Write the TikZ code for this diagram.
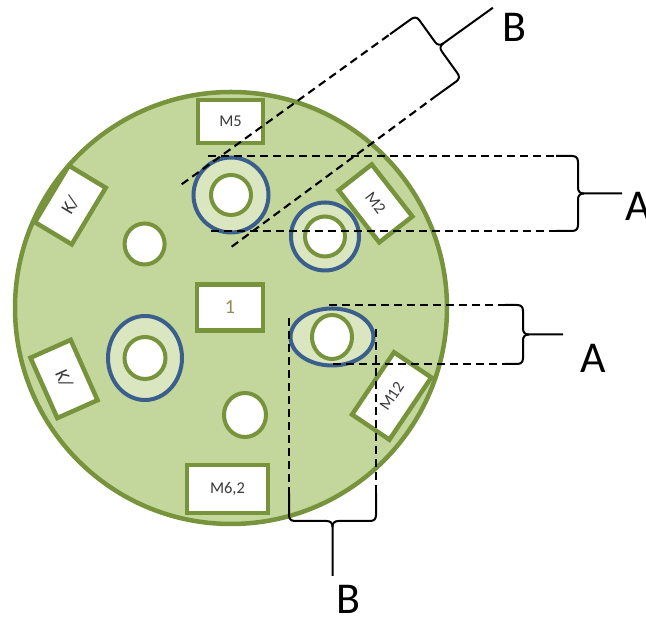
\documentclass[tikz,border=0pt]{standalone}
\usepackage{fontspec}
\setmainfont{Carlito}
\definecolor{agar}{HTML}{C3D69B}
\definecolor{rim}{HTML}{77933C}
\definecolor{zone}{HTML}{D9E6C0}
\definecolor{halo}{HTML}{3A5F8C}
\definecolor{labelink}{HTML}{3A3A3A}
\definecolor{numink}{HTML}{948A54}

\tikzset{
  plate/.style={draw=rim, fill=agar, line width=4.5pt},
  disc/.style={rectangle, draw=rim, fill=white, line width=4.5pt, inner sep=0pt,
    outer sep=0pt, text=labelink, font=\fontsize{16.5}{16.5}\selectfont},
  well/.style={draw=rim, fill=white, line width=4pt},
  haloring/.style={draw=halo, fill=zone, line width=4pt},
  guide/.style={draw=black, line width=2.1pt, dash pattern=on 8pt off 5pt},
  bracepath/.style={draw=black, line width=2pt, line join=round},
  zonelabel/.style={inner sep=0pt, anchor=base, font=\fontsize{44}{44}\selectfont}
}

% curly brace: #1 name, #2 centre, #3 angle, #4 half length, #5 depth, #6 tip length
\newcommand{\cbrace}[6]{%
  \begin{scope}[shift={#2},rotate=#3]
    \coordinate (#1-l) at (0,#4);
    \coordinate (#1-r) at (0,-#4);
    \coordinate (#1-tip) at ({#5+#6},0);
    \draw[bracepath] (#1-l) -- ({#5-6},#4) .. controls ({#5-2},#4) and (#5,{#4-2}) .. (#5,{#4-6})
      -- (#5,6) .. controls (#5,2) and ({#5+2},0) .. ({#5+6},0) -- (#1-tip);
    \draw[bracepath] (#1-r) -- ({#5-6},-#4) .. controls ({#5-2},-#4) and (#5,{-#4+2}) .. (#5,{-#4+6})
      -- (#5,-6) .. controls (#5,-2) and ({#5+2},0) .. ({#5+6},0);
  \end{scope}}

\begin{document}
\begin{tikzpicture}[x=1pt,y=1pt]
\useasboundingbox (0,0) rectangle (646,617);

% agar plate
\coordinate (dish) at (231,309);
\draw[plate] (dish) circle (216);

% wells with inhibition zones
\coordinate (w1) at (231,422);
\coordinate (w2) at (325,380.5);
\coordinate (w3) at (145,259);
\coordinate (w4) at (332,280);
\coordinate (w5) at (144.6,373);
\coordinate (w6) at (245,202);

\draw[haloring] (w1) circle (37.5);
\draw[well] (w1) circle (20);
\draw[haloring] (w2) circle (34);
\draw[well] (w2) circle (20);
\draw[haloring] (w3) ellipse (37 and 42);
\draw[well] (w3) ellipse (20.5 and 21);
\draw[haloring] (w4) ellipse (41.5 and 28.5);
\draw[well] (w4) ellipse (20 and 22);
\draw[well] (w5) ellipse (20 and 20.5);
\draw[well] (w6) ellipse (21 and 22);

% paper discs
\node[disc, minimum width=65pt, minimum height=43pt] (m5) at (230.5,495.5) {M5};
\node[disc, minimum width=66pt, minimum height=46pt, text=numink,
      font=\fontsize{20}{20}\selectfont] (one) at (230,309.5) {1};
\node[disc, minimum width=81pt, minimum height=48pt] (m62) at (227.5,128) {M6,2};
\node[disc, minimum width=66pt, minimum height=43pt, rotate=59,
      font=\fontsize{19}{19}\selectfont] (k1) at (70.3,412) {K/};
\node[disc, minimum width=66pt, minimum height=44pt, rotate=-66,
      font=\fontsize{19}{19}\selectfont] (k2) at (64,238) {K/};
\node[disc, minimum width=66pt, minimum height=42pt, rotate=-52] (m2) at (375.5,413.6) {M2};
\node[disc, minimum width=75pt, minimum height=45pt, rotate=56] (m12) at (391.7,221) {M12};

% braces
\cbrace{ba}{(556,423.5)}{0}{37.5}{22}{44}
\cbrace{bb}{(505,282.5)}{0}{29.5}{18}{40}
\cbrace{bc}{(332.5,124)}{-90}{43.5}{28}{55}
\cbrace{bd}{(412.5,551.5)}{35.7}{38.5}{32}{67}

% guide lines
\coordinate (ga1) at (208,461);
\coordinate (ga2) at (211,386);
\coordinate (gb1) at (329,312);
\coordinate (gb2) at (333,253);
\coordinate (gc1) at (376,288);
\coordinate (gc2) at (289,299);
\coordinate (gd1) at (181.7,432.7);
\coordinate (gd2) at (231.7,370.3);

\draw[guide] (ga1) -- (ba-l);
\draw[guide] (ga2) -- (ba-r);
\draw[guide] (gb1) -- (bb-l);
\draw[guide] (gb2) -- (bb-r);
\draw[guide] (gc1) -- (bc-l);
\draw[guide] (gc2) -- (bc-r);
\draw[guide] (gd1) -- (bd-l);
\draw[guide] (gd2) -- (bd-r);

% zone labels
\node[zonelabel] (la1) at (638,396) {A};
\node[zonelabel] (la2) at (593,244) {A};
\node[zonelabel] (lb1) at (514,575) {B};
\node[zonelabel] (lb2) at (348,3) {B};
\end{tikzpicture}
\end{document}
